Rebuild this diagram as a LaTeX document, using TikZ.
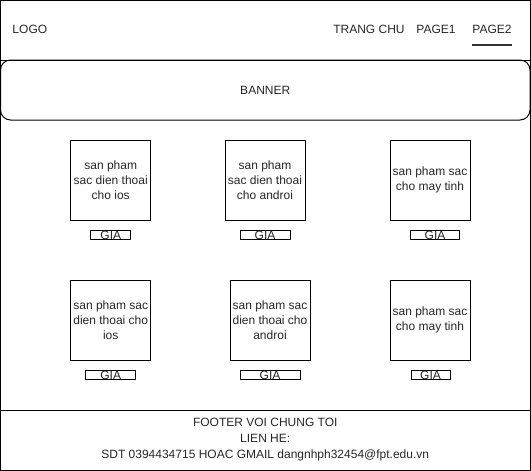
\documentclass[tikz,border=0pt]{standalone}
\usepackage{fontspec}
\setmainfont{Liberation Sans}
\tikzset{
  txt/.style={font=\fontsize{12}{15}\selectfont, text=black!85, inner sep=0pt},
  prodbox/.style={txt, draw, minimum width=80pt, minimum height=80pt, align=center},
  giabox/.style={txt, draw, minimum height=9pt}
}

\begin{document}
\begin{tikzpicture}[x=1pt, y=-1pt, line width=1pt]
		%%%%% START %%%%%
		\useasboundingbox (0, 0) rectangle (531, 471);
		
		\draw (0.5, 0.5) rectangle (530, 470);
		\draw (0.5, 60) -- (530, 60);
		
		\node[txt, anchor=west] (logo) at (12, 29) {LOGO};
		\node[txt] (trangchu) at (369, 29) {TRANG CHU};
		\node[txt] (page1) at (436, 29) {PAGE1};
		\node[txt] (page2) at (492, 29) {PAGE2};
		\draw[line width=2pt, color=black!80] (472, 45) -- (512, 45);
		
		\node[txt, draw, rounded corners=10pt, minimum width=529.5pt, minimum height=60pt] (banner) at (265.25, 90) {BANNER};
		
		\node[prodbox] (sp1) at (110.7, 180) {san pham\\sac dien thoai\\cho ios};
		\node[prodbox] (sp2) at (265, 180) {san pham\\sac dien thoai\\cho androi};
		\node[prodbox] (sp3) at (430, 180) {san pham sac\\cho may tinh};
		\node[giabox, minimum width=40pt] (gia1) at (110.8, 235) {GIA};
		\node[giabox, minimum width=50pt] (gia2) at (265, 235) {GIA};
		\node[giabox, minimum width=49pt] (gia3) at (435, 235) {GIA};
		
		\node[prodbox] (sp4) at (110.7, 320) {san pham sac\\dien thoai cho\\ios};
		\node[prodbox] (sp5) at (270, 320) {san pham sac\\dien thoai cho\\androi};
		\node[prodbox] (sp6) at (430, 320) {san pham sac\\cho may tinh};
		\node[giabox, minimum width=50pt] (gia4) at (110.7, 375) {GIA};
		\node[giabox, minimum width=60pt] (gia5) at (270, 375) {GIA};
		\node[giabox, minimum width=39pt] (gia6) at (430.5, 375) {GIA};
		
		\draw (0.5, 410) -- (530, 410);
		\node[txt, align=center, font=\fontsize{12}{16}\selectfont] (footer) at (265.25, 440) {FOOTER VOI CHUNG TOI\\LIEN HE:\\SDT 0394434715 HOAC GMAIL dangnhph32454@fpt.edu.vn};
		
		%%%%% END %%%%%
	\end{tikzpicture}
\end{document}
